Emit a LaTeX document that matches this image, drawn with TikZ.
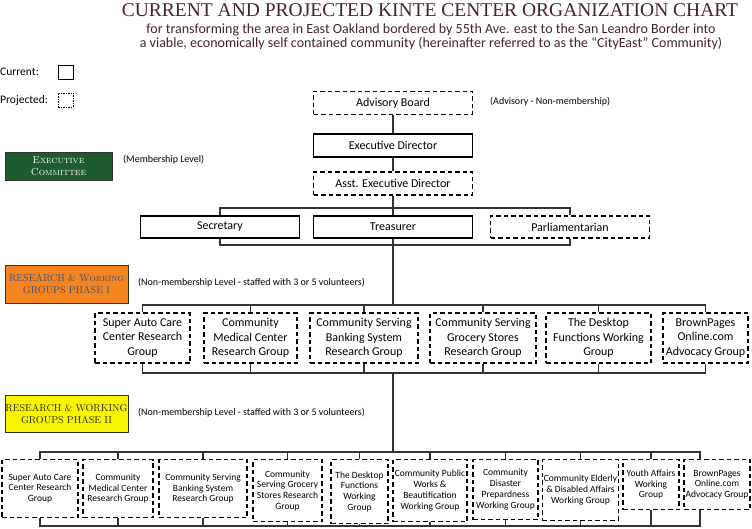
\documentclass[tikz,border=0pt]{standalone}
\usepackage{fontspec}
\setsansfont{Carlito}
\newfontfamily\titlefont{Liberation Serif}
\definecolor{titlered}{HTML}{45222E}
\definecolor{execgreen}{HTML}{1E5B2E}
\definecolor{phaseorange}{HTML}{F5841F}
\definecolor{phaseyellow}{HTML}{F8F400}
\definecolor{phaseblue}{HTML}{3E4E7A}
\definecolor{linegray}{HTML}{333333}

\begin{document}
\begin{tikzpicture}[x=1pt,y=-1pt,font=\sffamily,
    cur/.style={draw=black,line width=1.1pt,minimum width=159pt,minimum height=23pt,inner sep=1pt,
      font=\sffamily\fontsize{12}{14.5}\selectfont},
    proj/.style={cur,dash pattern=on 4.5pt off 3pt},
    grp/.style={proj,align=center,minimum height=50pt},
    sub/.style={proj,align=center,anchor=north,inner sep=1pt,font=\sffamily\fontsize{9.5}{10.7}\selectfont},
    level/.style={draw=black!80,line width=0.8pt,align=center,inner sep=0pt,
      font=\rmfamily\fontsize{10}{11.5}\selectfont},
    note/.style={anchor=west,inner sep=0pt,font=\sffamily\fontsize{10}{12}\selectfont},
    link/.style={draw=linegray,line width=1.1pt}]
  \useasboundingbox (0,0) rectangle (752,529);

  % heading
  \node[text=titlered,font=\titlefont\fontsize{19.5}{22}\selectfont] (title) at (430,10)
    {CURRENT AND PROJECTED KINTE CENTER ORGANIZATION CHART};
  \node[text=titlered,align=center,font=\sffamily\fontsize{14}{14.5}\selectfont] (subtitle) at (431,37)
    {for transforming the area in East Oakland bordered by 55th Ave. east to the San Leandro Border into\\
     a viable, economically self contained community (hereinafter referred to as the “CityEast” Community)};

  % legend
  \node[note,font=\sffamily\fontsize{11.5}{13}\selectfont] (curlbl) at (0,72) {Current:};
  \node[draw,line width=0.7pt,minimum width=15pt,minimum height=14pt,inner sep=0pt] (curbox) at (65.5,72) {};
  \node[note,font=\sffamily\fontsize{11.5}{13}\selectfont] (projlbl) at (0,100) {Projected:};
  \node[draw,line width=0.6pt,dash pattern=on 1.5pt off 1pt,minimum width=15pt,minimum height=14pt,inner sep=0pt] (projbox) at (65.5,100) {};

  % levels
  \node[level,fill=execgreen,text=white,minimum width=107pt,minimum height=28pt] (exec) at (58.5,166)
    {\textsc{Executive}\\\textsc{Committee}};
  \node[note] (execnote) at (123,160) {(Membership Level)};
  \node[level,fill=phaseorange,text=phaseblue,minimum width=123pt,minimum height=38pt] (ph1) at (66.5,284)
    {RESEARCH \& W\textsc{orking}\\GROUPS PHASE I};
  \node[note] (ph1note) at (138,283) {(Non-membership Level - staffed with 3 or 5 volunteers)};
  \node[level,fill=phaseyellow,text=black!85,minimum width=123pt,minimum height=37pt] (ph2) at (66.5,414)
    {RESEARCH \& WORKING\\GROUPS PHASE II};
  \node[note] (ph2note) at (138,413) {(Non-membership Level - staffed with 3 or 5 volunteers)};

  % board and officers
  \node[proj] (adv) at (393,103) {Advisory Board};
  \node[note] (advnote) at (490,102) {(Advisory - Non-membership)};
  \node[cur] (ed) at (393,145.5) {Executive Director};
  \node[proj] (aed) at (393,183.5) {Asst. Executive Director};
  \node[cur,minimum height=22pt] (sec) at (220,227) {Secretary};
  \node[cur,minimum height=22pt] (tre) at (393,227) {Treasurer};
  \node[proj,minimum height=22pt] (parl) at (570,227) {Parliamentarian};

  % phase I
  \node[grp,minimum width=95pt] (p1) at (142.5,338) {Super Auto Care\\Center Research\\Group};
  \node[grp,minimum width=93pt] (p2) at (250.5,338) {Community\\Medical Center\\Research Group};
  \node[grp,minimum width=108pt] (p3) at (364,338) {Community Serving\\Banking System\\Research Group};
  \node[grp,minimum width=106pt] (p4) at (483,338) {Community Serving\\Grocery Stores\\Research Group};
  \node[grp,minimum width=105pt] (p5) at (598.5,338) {The Desktop\\Functions Working\\Group};
  \node[grp,minimum width=85pt] (p6) at (705.5,338) {BrownPages\\Online.com\\Advocacy Group};

  % phase II
  \node[sub,minimum width=76pt,minimum height=58pt] (q1) at (40,459) {Super Auto Care\\Center Research\\Group};
  \node[sub,minimum width=70pt,minimum height=58pt] (q2) at (118,459) {Community\\Medical Center\\Research Group};
  \node[sub,minimum width=88pt,minimum height=58pt] (q3) at (203,459) {Community Serving\\Banking System\\Research Group};
  \node[sub,minimum width=69pt,minimum height=62pt] (q4) at (287.5,459) {Community\\Serving Grocery\\Stores Research\\Group};
  \node[sub,minimum width=57pt,minimum height=64pt] (q5) at (359.5,459) {The Desktop\\Functions\\Working\\Group};
  \node[sub,minimum width=74pt,minimum height=62pt] (q6) at (430,459) {Community Public\\Works \&\\Beautification\\Working Group};
  \node[sub,minimum width=65pt,minimum height=60pt] (q7) at (505.5,459) {Community\\Disaster\\Prepardness\\Working Group};
  \node[sub,minimum width=75pt,minimum height=61pt] (q8) at (580.5,459) {Community Elderly\\\& Disabled Affairs\\Working Group};
  \node[sub,minimum width=56pt,minimum height=50pt] (q9) at (651,459) {Youth Affairs\\Working\\Group};
  \node[sub,minimum width=66pt,minimum height=50pt] (q10) at (717,459) {BrownPages\\Online.com\\Advocacy Group};

  % buses
  \coordinate (busA) at (393,208);
  \coordinate (busB) at (393,245);
  \coordinate (busC) at (393,305);
  \coordinate (busD) at (393,373);
  \coordinate (busE) at (393,452);
  \coordinate (busF) at (393,526);

  \draw[link] (adv) -- (ed);
  \draw[link] (ed) -- (aed);
  \draw[link] (aed) -- (tre);
  \draw[link] (sec.north) |- (busA) -| (parl.north);
  \draw[link] (sec.south) |- (busB) -| (parl.south);
  \draw[link] (tre) -- (busC);
  \draw[link] (p1.north) |- (busC) -| (p6.north);
  \draw[link] (p1.south) |- (busD) -| (p6.south);
  \foreach \i in {2,...,5} {
    \draw[link] (p\i.north) -- (p\i.north |- busC);
    \draw[link] (p\i.south) -- (p\i.south |- busD);
  }
  \draw[link] (busD) -- (busE);
  \draw[link] (q1.north) |- (busE) -| ([xshift=-17pt]q10.north);
  \draw[link] (q1.south) |- (busF) -| ([xshift=-17pt]q10.south);
  \foreach \i in {2,...,9} {
    \draw[link] (q\i.north) -- (q\i.north |- busE);
    \draw[link] (q\i.south) -- (q\i.south |- busF);
  }
\end{tikzpicture}
\end{document}
